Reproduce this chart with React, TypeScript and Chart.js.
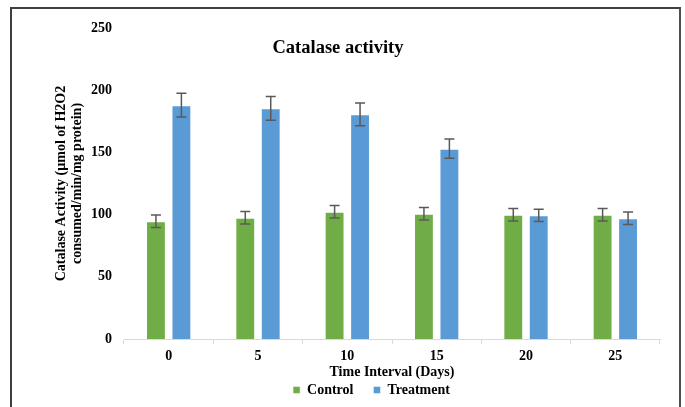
import React, { useEffect, useRef } from "react";
import { Chart, registerables } from "chart.js";

Chart.register(...registerables);

const categories = ["0", "5", "10", "15", "20", "25"];
const controlValues = [94.6, 97.5, 102.3, 100.7, 99.9, 99.9];
const treatmentValues = [188, 185.4, 180.6, 153, 99.4, 97];
const controlErrors = [5, 5, 5, 5, 5, 5];
const treatmentErrors = [9.5, 9.5, 9.1, 7.8, 5, 5];
const chartTitle = "Catalase activity";
const yTitle = ["Catalase Activity (µmol of H2O2", "consumed/min/mg protein)"];
const xTitle = "Time Interval (Days)";

const FONT = "'Liberation Serif', 'Times New Roman', serif";

const errorBarPlugin = {
  id: "errorBars",
  afterDatasetsDraw(chart: any) {
    const ctx = chart.ctx;
    const y = chart.scales.y;
    const errs = [controlErrors, treatmentErrors];
    ctx.save();
    ctx.strokeStyle = "#595959";
    ctx.lineWidth = 1.5;
    chart.data.datasets.forEach((ds: any, di: number) => {
      const meta = chart.getDatasetMeta(di);
      meta.data.forEach((bar: any, i: number) => {
        const v = ds.data[i];
        const e = errs[di][i];
        const top = y.getPixelForValue(v + e);
        const bot = y.getPixelForValue(v - e);
        const x = bar.x;
        ctx.beginPath();
        ctx.moveTo(x, top);
        ctx.lineTo(x, bot);
        ctx.moveTo(x - 5, top);
        ctx.lineTo(x + 5, top);
        ctx.moveTo(x - 5, bot);
        ctx.lineTo(x + 5, bot);
        ctx.stroke();
      });
    });
    ctx.restore();
  },
};

const titlePlugin = {
  id: "customTitle",
  afterDraw(chart: any) {
    const ctx = chart.ctx;
    ctx.save();
    ctx.font = `bold 18.5px ${FONT}`;
    ctx.fillStyle = "#000";
    ctx.textAlign = "center";
    ctx.textBaseline = "middle";
    ctx.fillText(chartTitle, 338, 48);
    ctx.restore();
  },
};

export default function App() {
  const ref = useRef<HTMLCanvasElement>(null);
  useEffect(() => {
    if (!ref.current) return;
    const chart = new Chart(ref.current, {
      type: "bar",
      data: {
        labels: categories,
        datasets: [
          {
            label: "Control",
            data: controlValues,
            backgroundColor: "#70AD47",
            borderColor: "rgba(255,255,255,0.45)",
            borderWidth: 1,
            categoryPercentage: 0.57,
            barPercentage: 0.78,
          },
          {
            label: "Treatment",
            data: treatmentValues,
            backgroundColor: "#5B9BD5",
            borderColor: "rgba(255,255,255,0.45)",
            borderWidth: 1,
            categoryPercentage: 0.57,
            barPercentage: 0.78,
          },
        ],
      },
      options: {
        responsive: false,
        animation: false,
        devicePixelRatio: 1,
        layout: { padding: { left: 83, right: 25, top: 28, bottom: 0 } },
        plugins: {
          tooltip: { enabled: false },
          title: { display: false },
          legend: {
            display: true,
            position: "bottom",
            maxHeight: 44,
            labels: {
              boxWidth: 7,
              boxHeight: 7,
              padding: 20,
              color: "#000",
              font: { family: FONT, size: 14, weight: "bold" },
            },
          },
        },
        scales: {
          x: {
            grid: {
              display: true,
              drawOnChartArea: false,
              drawTicks: true,
              tickLength: 5,
              color: "#d9d9d9",
              offset: true,
            },
            border: { display: true, color: "#d9d9d9", width: 1 },
            ticks: {
              color: "#000",
              padding: 4,
              font: { family: FONT, size: 14, weight: "bold" },
            },
            title: {
              display: true,
              text: xTitle,
              color: "#000",
              font: { family: FONT, size: 14, weight: "bold" },
              padding: { top: 0, bottom: -17.4 },
            },
            afterFit(scale: any) {
              scale.height = 24;
            },
          },
          y: {
            min: 0,
            max: 250,
            grid: { display: false, drawTicks: false },
            border: { display: false },
            ticks: {
              stepSize: 50,
              color: "#000",
              padding: 12,
              font: { family: FONT, size: 14, weight: "bold" },
            },
            title: {
              display: true,
              text: yTitle,
              color: "#000",
              font: { family: FONT, size: 14, weight: "bold" },
              padding: { top: -30.4, bottom: 0 },
            },
            afterFit(scale: any) {
              scale.width = 41;
            },
          },
        },
      },
      plugins: [errorBarPlugin, titlePlugin],
    } as any);
    return () => chart.destroy();
  }, []);

  return (
    <div
      style={{
        position: "fixed",
        left: 0,
        top: 0,
        width: 685,
        height: 407,
        overflow: "hidden",
        background: "#fff",
      }}
    >
      <canvas
        ref={ref}
        width={685}
        height={407}
        style={{ position: "absolute", left: 0, top: 0, width: 685, height: 407 }}
      />
      <div
        style={{
          position: "absolute",
          left: 10,
          top: 7,
          width: 671,
          height: 430,
          boxSizing: "border-box",
          borderTop: "2px solid #404040",
          borderLeft: "2px solid #404040",
          borderRight: "2px solid #505050",
          pointerEvents: "none",
        }}
      />
    </div>
  );
}
